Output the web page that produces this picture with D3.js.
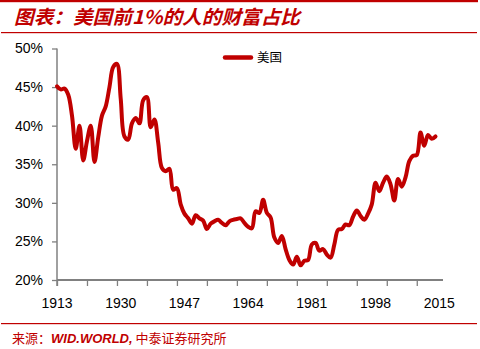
<!DOCTYPE html>
<html><head><meta charset="utf-8">
<script src="https://cdn.jsdelivr.net/npm/d3@7"></script>
<style>html,body{margin:0;padding:0;background:#fff;}svg{display:block;}</style>
</head><body>
<script>
const titleText = "图表：美国前1%的人的财富占比";
const seriesName = "美国";
const years = d3.range(1913, 2015);
const values = [
 45.1,44.7,44.8,44.0,41.3,37.0,40.0,35.5,38.0,40.0,
 35.3,38.5,41.3,42.5,45.0,47.6,48.0,43.5,38.6,38.2,
 40.3,41.0,40.3,43.3,43.7,39.8,40.8,37.8,34.5,34.1,
 34.4,31.7,31.9,29.8,28.6,28.0,27.3,28.4,28.0,27.7,
 26.6,27.3,27.6,27.8,27.4,27.1,27.6,27.8,27.9,28.0,
 27.4,26.9,26.7,28.9,28.7,30.4,28.7,28.1,25.5,24.8,
 25.7,24.0,22.6,22.0,23.0,21.9,22.5,22.6,24.6,24.8,
 23.8,24.0,23.3,22.9,24.6,26.5,26.6,27.2,27.1,28.2,
 29.0,28.3,27.8,28.6,29.8,32.6,31.5,32.6,33.4,32.4,
 30.3,33.1,32.1,33.3,35.4,36.1,36.2,39.1,37.4,38.8,
 38.3,38.6
];
const yTicks = [20, 25, 30, 35, 40, 45, 50];
const xLabelYears = [1913, 1930, 1947, 1964, 1981, 1998, 2015];
const xTickYears = d3.range(1913, 2017, 8);

const W = 480, H = 349;
const red = "#C00000";
const svg = d3.select("body").append("svg").attr("width", W).attr("height", H);

// header / footer rules
svg.append("rect").attr("x", 0).attr("y", 0).attr("width", 478).attr("height", 2.2).attr("fill", red);
svg.append("rect").attr("x", 1).attr("y", 32).attr("width", 476).attr("height", 1.2).attr("fill", red);
svg.append("rect").attr("x", 1).attr("y", 323).attr("width", 476).attr("height", 1.2).attr("fill", red);

svg.append("text").attr("x", 14).attr("y", 24)
  .attr("font-family", "'Noto Sans CJK SC', sans-serif")
  .attr("font-size", 19).attr("font-weight", "bold").attr("font-style", "italic")
  .attr("fill", red).attr("textLength", 286).attr("lengthAdjust", "spacingAndGlyphs")
  .text(titleText);

const foot = svg.append("text").attr("x", 12).attr("y", 343)
  .attr("font-family", "'Noto Sans CJK SC', sans-serif").attr("font-size", 13).attr("fill", red);
foot.append("tspan").text("来源：");
foot.append("tspan").attr("font-weight", "bold").attr("font-style", "italic")
  .attr("font-family", "'Liberation Sans', Arial, sans-serif").text("WID.WORLD,");
foot.append("tspan").text(" 中泰证券研究所");

const x = d3.scaleLinear().domain([1913, 2016]).range([57, 443]);
const y = d3.scaleLinear().domain([20, 50]).range([280, 48.5]);

// y axis
const gy = svg.append("g").attr("transform", "translate(57,0)")
  .call(d3.axisLeft(y).tickValues(yTicks).tickSize(5).tickPadding(9).tickFormat(d => d + "%"));
gy.select(".domain").attr("stroke", "#808080").attr("stroke-width", 1.5).attr("d", "M0,48.5V286");
gy.selectAll(".tick line").attr("stroke", "#808080").attr("stroke-width", 1.3);
gy.selectAll(".tick text").attr("font-family", "'Liberation Sans', Arial, sans-serif")
  .attr("font-size", 14).attr("fill", "#000");

// x axis
const gx = svg.append("g").attr("transform", "translate(0,280)")
  .call(d3.axisBottom(x).tickValues(xTickYears).tickSize(6).tickFormat(""));
gx.select(".domain").attr("stroke", "#808080").attr("stroke-width", 2).attr("d", "M57,0H443");
gx.selectAll(".tick line").attr("stroke", "#808080").attr("stroke-width", 1.3);
svg.append("g").selectAll("text").data(xLabelYears).join("text")
  .attr("x", d => x(d)).attr("y", 308).attr("text-anchor", "middle")
  .attr("font-family", "'Liberation Sans', Arial, sans-serif").attr("font-size", 14).attr("fill", "#000")
  .text(d => d);

// line
const line = d3.line().x((d, i) => x(years[i])).y(d => y(d)).curve(d3.curveCatmullRom.alpha(0.5));
svg.append("path").datum(values).attr("d", line).attr("fill", "none")
  .attr("stroke", red).attr("stroke-width", 4).attr("stroke-linejoin", "round").attr("stroke-linecap", "round");

// legend
svg.append("line").attr("x1", 225).attr("x2", 251).attr("y1", 57.5).attr("y2", 57.5)
  .attr("stroke", red).attr("stroke-width", 4.5).attr("stroke-linecap", "round");
svg.append("text").attr("x", 257).attr("y", 62)
  .attr("font-family", "'Noto Sans CJK SC', sans-serif").attr("font-size", 12.5).attr("fill", "#000")
  .text(seriesName);
</script>
</body></html>
